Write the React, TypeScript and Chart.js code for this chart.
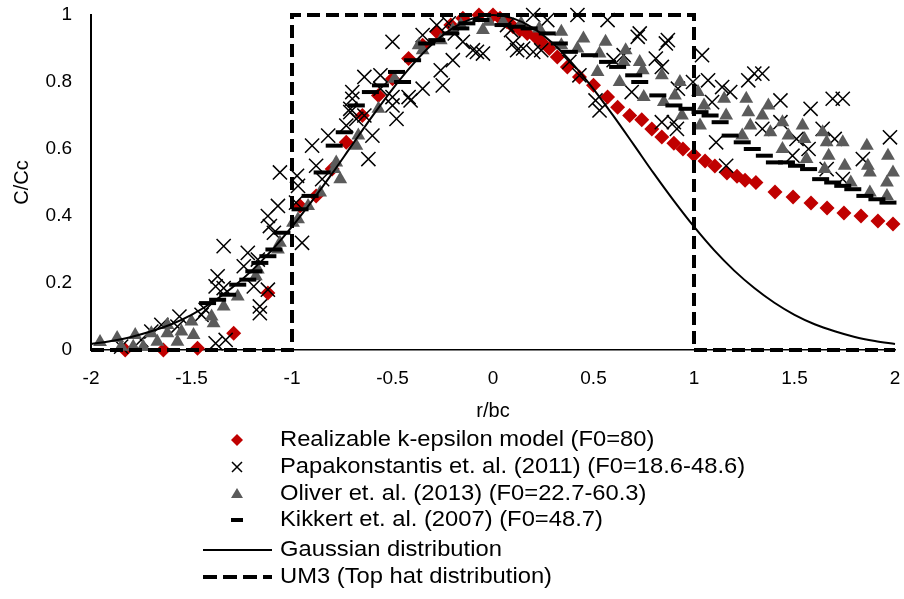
import React, { useEffect, useRef } from 'react';
import { Chart, registerables } from 'chart.js';

Chart.register(...registerables);

// ---------- data ----------
const xTickLabels = ['-2', '-1.5', '-1', '-0.5', '0', '0.5', '1', '1.5', '2'];
const yTickLabels = ['0', '0.2', '0.4', '0.6', '0.8', '1'];

const seriesNames = [
  'Realizable k-epsilon model (F0=80)',
  'Papakonstantis et. al. (2011) (F0=18.6-48.6)',
  'Oliver et. al. (2013) (F0=22.7-60.3)',
  'Kikkert et. al. (2007) (F0=48.7)',
  'Gaussian distribution',
  'UM3 (Top hat distribution)',
];

// Realizable k-epsilon model [r/bc, C/Cc]
const kEpsilon: [number, number][] = [
  [-1.83, 0], [-1.64, 0], [-1.47, 0.005], [-1.29, 0.05], [-1.12, 0.17],
  [-0.96, 0.43], [-0.88, 0.46], [-0.8, 0.54], [-0.73, 0.62], [-0.65, 0.7],
  [-0.57, 0.76], [-0.5, 0.81], [-0.42, 0.87], [-0.35, 0.91], [-0.28, 0.95],
  [-0.21, 0.97], [-0.15, 0.99], [-0.07, 1.0], [0, 1.0], [0.035, 0.99],
  [0.07, 0.98], [0.1, 0.965], [0.135, 0.955], [0.17, 0.945], [0.21, 0.935],
  [0.24, 0.92], [0.28, 0.9], [0.32, 0.875], [0.37, 0.845], [0.43, 0.815],
  [0.5, 0.79], [0.57, 0.755], [0.62, 0.725], [0.68, 0.7], [0.74, 0.687],
  [0.79, 0.66], [0.84, 0.636], [0.9, 0.617], [0.945, 0.6], [1.0, 0.582],
  [1.055, 0.564], [1.104, 0.549], [1.164, 0.528], [1.214, 0.519], [1.254, 0.507],
  [1.308, 0.5], [1.403, 0.472], [1.493, 0.457], [1.582, 0.439], [1.662, 0.424],
  [1.746, 0.409], [1.831, 0.4], [1.915, 0.385], [1.99, 0.376],
];

// Papakonstantis et al. (2011)
const papakonstantis: [number, number][] = [
  [-1.85, 0.01], [-1.75, 0.03], [-1.7, 0.055], [-1.65, 0.075], [-1.57, 0.07],
  [-1.56, 0.1], [-1.45, 0.105], [-1.43, 0.12], [-1.38, 0.02], [-1.33, 0.03],
  [-1.38, 0.19], [-1.37, 0.22], [-1.34, 0.31], [-1.34, 0.185], [-1.24, 0.25],
  [-1.22, 0.29], [-1.19, 0.19], [-1.17, 0.27], [-1.16, 0.13], [-1.16, 0.11],
  [-1.12, 0.18], [-1.11, 0.37], [-1.12, 0.4], [-1.09, 0.35], [-1.07, 0.43],
  [-1.06, 0.53], [-0.98, 0.44], [-0.95, 0.32], [-0.975, 0.52], [-0.97, 0.49],
  [-0.9, 0.61], [-0.88, 0.55], [-0.85, 0.51], [-0.82, 0.64], [-0.73, 0.67],
  [-0.71, 0.72], [-0.71, 0.71], [-0.7, 0.75], [-0.7, 0.77], [-0.68, 0.69],
  [-0.64, 0.815], [-0.64, 0.7], [-0.62, 0.57], [-0.6, 0.64], [-0.56, 0.82],
  [-0.56, 0.78], [-0.5, 0.92], [-0.5, 0.755], [-0.5, 0.73], [-0.48, 0.69],
  [-0.42, 0.755], [-0.41, 0.745], [-0.35, 0.78], [-0.35, 0.94], [-0.28, 0.97],
  [-0.26, 0.835], [-0.25, 0.79], [-0.22, 0.975], [-0.2, 0.865], [-0.19, 0.945],
  [-0.15, 0.92], [-0.1, 0.895], [-0.08, 0.89], [-0.05, 0.885], [0.07, 0.97],
  [0.09, 0.955], [0.1, 0.915], [0.12, 0.895], [0.15, 0.9], [0.2, 0.89],
  [0.24, 0.895], [0.2, 1.0], [0.27, 0.985], [0.38, 0.86], [0.42, 1.0],
  [0.43, 0.82], [0.51, 0.745], [0.53, 0.715], [0.57, 0.985], [0.6, 0.865],
  [0.65, 0.88], [0.69, 0.77], [0.72, 0.935], [0.73, 0.945], [0.81, 0.87],
  [0.84, 0.845], [0.84, 0.68], [0.86, 0.915], [0.87, 0.925], [0.9, 0.68],
  [0.915, 0.66], [0.92, 0.78], [0.995, 0.8], [1.04, 0.88], [1.07, 0.805],
  [1.09, 0.74], [1.11, 0.62], [1.14, 0.785], [1.16, 0.55], [1.18, 0.77],
  [1.27, 0.805], [1.3, 0.825], [1.34, 0.825], [1.34, 0.66], [1.43, 0.745],
  [1.43, 0.68], [1.49, 0.58], [1.51, 0.63], [1.57, 0.6], [1.58, 0.72],
  [1.64, 0.66], [1.66, 0.54], [1.69, 0.75], [1.7, 0.63], [1.74, 0.75],
  [1.74, 0.51], [1.84, 0.57], [1.975, 0.635],
];

// Oliver et al. (2013)
const oliver: [number, number][] = [
  [-1.955, 0.024], [-1.87, 0.036], [-1.85, 0.01], [-1.78, 0.045], [-1.79, 0.01],
  [-1.74, 0.01], [-1.7, 0.05], [-1.67, 0.025], [-1.62, 0.075], [-1.62, 0.05],
  [-1.57, 0.025], [-1.55, 0.055], [-1.5, 0.085], [-1.49, 0.045], [-1.4, 0.1],
  [-1.39, 0.08], [-1.34, 0.13], [-1.27, 0.16], [-1.18, 0.22], [-1.17, 0.24],
  [-1.07, 0.3], [-1.06, 0.32], [-0.995, 0.38], [-0.97, 0.39], [-0.92, 0.43],
  [-0.86, 0.47], [-0.79, 0.54], [-0.78, 0.56], [-0.76, 0.51], [-0.68, 0.61],
  [-0.67, 0.64], [-0.57, 0.72], [-0.49, 0.81], [-0.37, 0.91], [-0.35, 0.895],
  [-0.26, 0.925], [-0.2, 0.955], [-0.16, 0.97], [-0.05, 0.955], [-0.02, 0.98],
  [0.05, 0.98], [0.14, 0.975], [0.23, 0.96], [0.34, 0.95], [0.34, 0.91],
  [0.42, 0.9], [0.45, 0.93], [0.52, 0.83], [0.53, 0.885], [0.56, 0.92],
  [0.63, 0.8], [0.65, 0.86], [0.66, 0.895], [0.73, 0.86], [0.745, 0.835],
  [0.75, 0.755], [0.84, 0.82], [0.85, 0.74], [0.905, 0.76], [0.93, 0.8],
  [0.94, 0.7], [1.02, 0.77], [1.03, 0.67], [1.05, 0.73], [1.15, 0.75],
  [1.16, 0.7], [1.24, 0.64], [1.26, 0.75], [1.27, 0.71], [1.28, 0.67],
  [1.34, 0.7], [1.37, 0.73], [1.38, 0.65], [1.44, 0.68], [1.44, 0.6],
  [1.47, 0.64], [1.54, 0.67], [1.55, 0.63], [1.56, 0.57], [1.64, 0.65],
  [1.65, 0.54], [1.66, 0.62], [1.67, 0.58], [1.74, 0.62], [1.75, 0.55],
  [1.78, 0.5], [1.86, 0.61], [1.865, 0.55], [1.875, 0.53], [1.875, 0.47],
  [1.96, 0.5], [1.96, 0.46], [1.965, 0.58], [1.99, 0.53],
];

// Kikkert et al. (2007)
const kikkert: [number, number][] = [
  [-1.42, 0.14], [-1.37, 0.15], [-1.32, 0.165], [-1.27, 0.195], [-1.22, 0.21],
  [-1.19, 0.235], [-1.16, 0.26], [-1.12, 0.28], [-1.09, 0.3], [-1.05, 0.35],
  [-0.96, 0.42], [-0.91, 0.46], [-0.85, 0.53], [-0.79, 0.61], [-0.74, 0.65],
  [-0.68, 0.73], [-0.61, 0.77], [-0.56, 0.79], [-0.48, 0.83], [-0.45, 0.8],
  [-0.4, 0.865], [-0.33, 0.915], [-0.28, 0.925], [-0.21, 0.945], [-0.16, 0.96],
  [-0.13, 0.975], [-0.06, 0.985], [0.05, 0.97], [0.12, 0.965], [0.18, 0.96],
  [0.27, 0.945], [0.33, 0.915], [0.38, 0.89], [0.48, 0.88], [0.57, 0.86],
  [0.62, 0.845], [0.7, 0.82], [0.73, 0.8], [0.82, 0.76], [0.9, 0.73],
  [0.965, 0.72], [1.03, 0.71], [1.08, 0.7], [1.13, 0.68], [1.18, 0.64],
  [1.24, 0.62], [1.29, 0.6], [1.35, 0.58], [1.4, 0.56], [1.46, 0.56],
  [1.51, 0.55], [1.57, 0.54], [1.63, 0.51], [1.69, 0.5], [1.74, 0.49],
  [1.79, 0.48], [1.85, 0.46], [1.91, 0.45], [1.965, 0.44],
];

// Gaussian distribution
const gaussianR = [
  -2, -1.9, -1.8, -1.7, -1.6, -1.5, -1.4, -1.3, -1.2, -1.1, -1, -0.9, -0.8, -0.7,
  -0.6, -0.5, -0.4, -0.3, -0.2, -0.1, 0, 0.1, 0.2, 0.3, 0.4, 0.5, 0.6, 0.7, 0.8,
  0.9, 1, 1.1, 1.2, 1.3, 1.4, 1.5, 1.6, 1.7, 1.8, 1.9, 2,
];
const gaussianC = [
  0.018, 0.027, 0.039, 0.056, 0.077, 0.105, 0.141, 0.185, 0.237, 0.298, 0.368,
  0.445, 0.527, 0.613, 0.698, 0.779, 0.852, 0.914, 0.961, 0.99, 1, 0.99, 0.961,
  0.914, 0.852, 0.779, 0.698, 0.613, 0.527, 0.445, 0.368, 0.298, 0.237, 0.185,
  0.141, 0.105, 0.077, 0.056, 0.039, 0.027, 0.018,
];

// UM3 top hat
const topHatR = [-2, -1, -1, 1, 1, 2];
const topHatC = [0, 0, 1, 1, 0, 0];

// ---------- styles ----------
const RED = '#C00000';
const GREY = '#5b5b5b';
const FONT = '"Liberation Sans", Arial, Helvetica, sans-serif';

const toPts = (arr: [number, number][]) => arr.map(([x, y]) => ({ x, y }));
const zipPts = (xs: number[], ys: number[]) => xs.map((x, i) => ({ x, y: ys[i] }));

const decorPlugin = {
  id: 'decor',
  afterDraw(chart: any) {
    const ctx: CanvasRenderingContext2D = chart.ctx;
    const area = chart.chartArea;
    ctx.save();
    ctx.fillStyle = '#000';
    // axis titles
    ctx.font = `20px ${FONT}`;
    ctx.textAlign = 'center';
    ctx.textBaseline = 'middle';
    ctx.fillText('r/bc', (area.left + area.right) / 2, 411);
    ctx.save();
    ctx.translate(22, (area.top + area.bottom) / 2);
    ctx.rotate(-Math.PI / 2);
    ctx.fillText('C/Cc', 0, 0);
    ctx.restore();

    // legend
    const rows = [440, 467, 494, 520, 550, 577];
    const mx = 237;
    const tx = 280;
    ctx.font = `22px ${FONT}`;
    ctx.textAlign = 'left';
    seriesNames.forEach((name, i) => {
      const y = rows[i];
      ctx.save();
      if (i === 0) {
        ctx.fillStyle = RED;
        ctx.beginPath();
        ctx.moveTo(mx, y - 6);
        ctx.lineTo(mx + 6, y);
        ctx.lineTo(mx, y + 6);
        ctx.lineTo(mx - 6, y);
        ctx.closePath();
        ctx.fill();
      } else if (i === 1) {
        ctx.strokeStyle = '#000';
        ctx.lineWidth = 1.5;
        ctx.beginPath();
        ctx.moveTo(mx - 5, y - 5);
        ctx.lineTo(mx + 5, y + 5);
        ctx.moveTo(mx + 5, y - 5);
        ctx.lineTo(mx - 5, y + 5);
        ctx.stroke();
      } else if (i === 2) {
        ctx.fillStyle = GREY;
        ctx.beginPath();
        ctx.moveTo(mx, y - 6);
        ctx.lineTo(mx + 6, y + 4);
        ctx.lineTo(mx - 6, y + 4);
        ctx.closePath();
        ctx.fill();
      } else if (i === 3) {
        ctx.strokeStyle = '#000';
        ctx.lineWidth = 4;
        ctx.beginPath();
        ctx.moveTo(mx - 6, y);
        ctx.lineTo(mx + 6, y);
        ctx.stroke();
      } else if (i === 4) {
        ctx.strokeStyle = '#000';
        ctx.lineWidth = 2;
        ctx.beginPath();
        ctx.moveTo(203, y);
        ctx.lineTo(272, y);
        ctx.stroke();
      } else {
        ctx.strokeStyle = '#000';
        ctx.lineWidth = 4;
        ctx.setLineDash([14, 6]);
        ctx.beginPath();
        ctx.moveTo(203, y);
        ctx.lineTo(272, y);
        ctx.stroke();
      }
      ctx.restore();
      ctx.save();
      ctx.translate(tx, y);
      ctx.scale(1.08, 1);
      ctx.fillStyle = '#000';
      ctx.fillText(name, 0, 0);
      ctx.restore();
    });
    ctx.restore();
  },
};

export default function App() {
  const canvasRef = useRef<HTMLCanvasElement | null>(null);

  useEffect(() => {
    if (!canvasRef.current) return;
    Chart.defaults.font.family = FONT;
    const chart = new Chart(canvasRef.current, {
      type: 'scatter',
      data: {
        datasets: [
          {
            label: seriesNames[5],
            data: zipPts(topHatR, topHatC),
            showLine: true,
            pointRadius: 0,
            borderColor: '#000',
            borderWidth: 4,
            borderDash: [13, 6],
            tension: 0,
            clip: false,
          } as any,
          {
            label: seriesNames[4],
            data: zipPts(gaussianR, gaussianC),
            showLine: true,
            pointRadius: 0,
            borderColor: '#000',
            borderWidth: 2,
            cubicInterpolationMode: 'monotone',
            clip: false,
          },
          {
            label: seriesNames[3],
            data: toPts(kikkert),
            pointStyle: 'line',
            pointRadius: 8.5,
            pointBorderWidth: 4,
            pointBorderColor: '#000',
            pointBackgroundColor: '#000',
            borderColor: '#000',
            clip: false,
          },
          {
            label: seriesNames[2],
            data: toPts(oliver),
            pointStyle: 'triangle',
            pointRadius: 8,
            pointBorderWidth: 0,
            pointBackgroundColor: GREY,
            pointBorderColor: GREY,
            clip: false,
          },
          {
            label: seriesNames[1],
            data: toPts(papakonstantis),
            pointStyle: 'crossRot',
            pointRadius: 10,
            pointBorderWidth: 1.5,
            pointBorderColor: '#000',
            pointBackgroundColor: '#000',
            clip: false,
          },
          {
            label: seriesNames[0],
            data: toPts(kEpsilon),
            pointStyle: 'rectRot',
            pointRadius: 7.5,
            pointBorderWidth: 0,
            pointBackgroundColor: RED,
            pointBorderColor: RED,
            clip: false,
          },
        ],
      },
      options: {
        animation: false,
        responsive: true,
        maintainAspectRatio: false,
        events: [],
        layout: { autoPadding: false, padding: { top: 15, right: 9, left: 0, bottom: 0 } },
        plugins: {
          legend: { display: false },
          tooltip: { enabled: false },
        },
        scales: {
          x: {
            type: 'linear',
            min: -2,
            max: 2,
            grid: { display: false, drawTicks: false },
            border: { display: true, color: '#000', width: 1.5 },
            ticks: {
              stepSize: 0.5,
              autoSkip: false,
              maxRotation: 0,
              padding: 17,
              color: '#000',
              font: { size: 19, family: FONT },
              callback: (_v: any, i: number) => xTickLabels[i],
            },
            afterFit: (s: any) => {
              s.height = 249;
              s.paddingLeft = 0;
              s.paddingRight = 0;
            },
          },
          y: {
            type: 'linear',
            min: 0,
            max: 1,
            grid: { display: false, drawTicks: false },
            border: { display: true, color: '#000', width: 2 },
            ticks: {
              stepSize: 0.2,
              padding: 19,
              color: '#000',
              font: { size: 19, family: FONT },
              callback: (_v: any, i: number) => yTickLabels[i],
            },
            afterFit: (s: any) => {
              s.width = 91;
              s.paddingTop = 0;
              s.paddingBottom = 0;
            },
          },
        },
      },
      plugins: [decorPlugin],
    });
    return () => chart.destroy();
  }, []);

  return (
    <div style={{ position: 'absolute', left: 0, top: 0, width: 904, height: 599, background: '#fff' }}>
      <canvas ref={canvasRef} />
    </div>
  );
}
